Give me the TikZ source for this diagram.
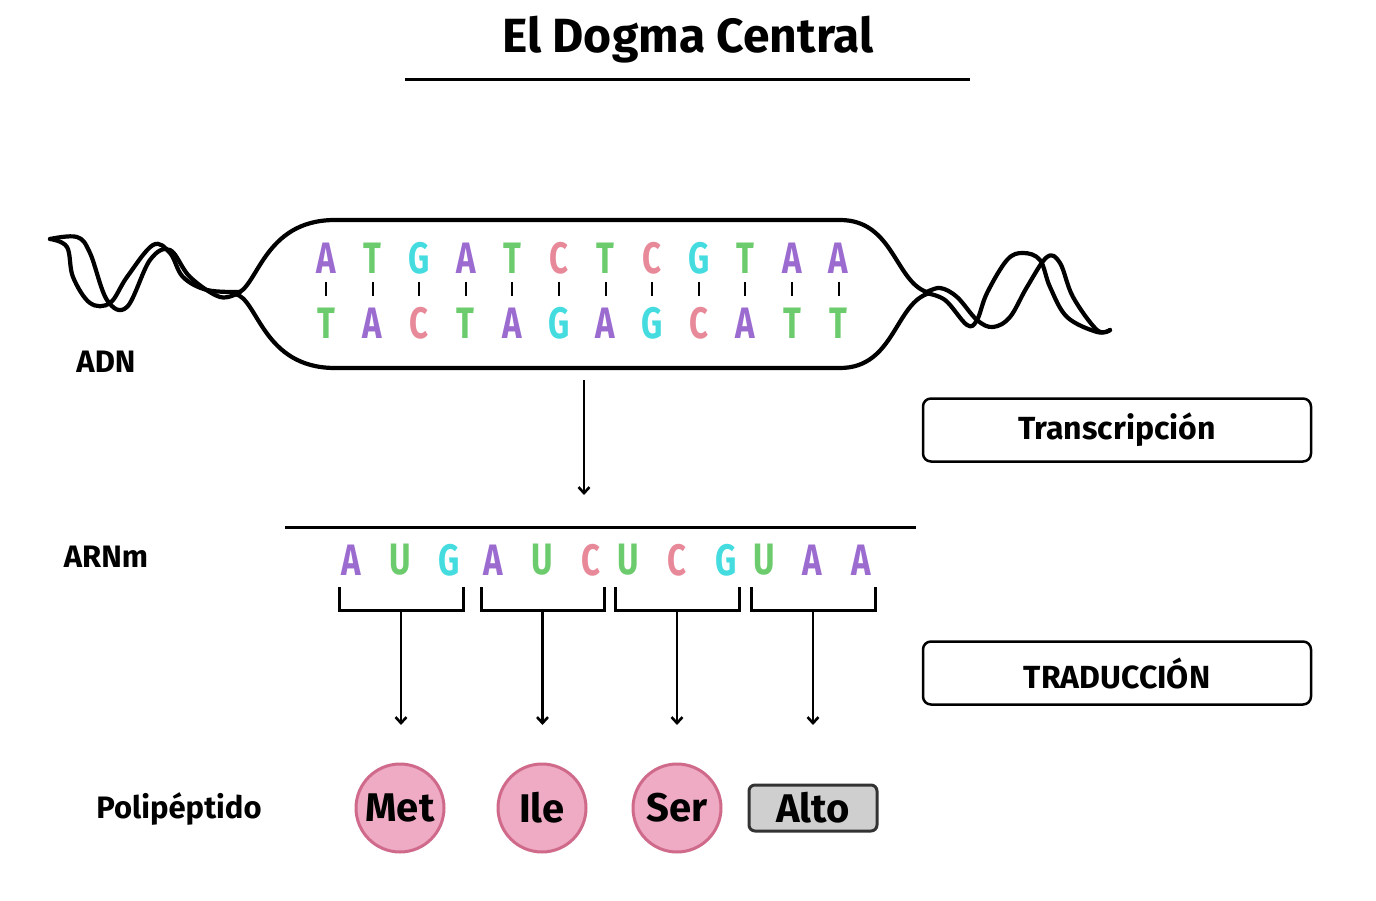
\documentclass[tikz,border=0pt]{standalone}
\usepackage{fontspec}
\setmainfont{Fira Sans}
\newfontfamily\narrowf[FakeStretch=0.75]{Fira Sans}
\usetikzlibrary{arrows.meta}
\definecolor{cA}{HTML}{9B6BD0}
\definecolor{cT}{HTML}{6CCB6C}
\definecolor{cG}{HTML}{45DCE0}
\definecolor{cC}{HTML}{E8899A}
\definecolor{pinkf}{HTML}{EFAAC4}
\definecolor{pinkd}{HTML}{D06A8A}
\tikzset{
 base/.style={font=\narrowf\fontsize{44}{44}\selectfont\bfseries, inner sep=0pt, anchor=center},
 A/.style={base,text=cA}, T/.style={base,text=cT}, G/.style={base,text=cG}, C/.style={base,text=cC}, U/.style={base,text=cT},
 lab/.style={font=\fontsize{31}{31}\selectfont\bfseries, inner sep=0pt},
 box/.style={draw, line width=2.5pt, rounded corners=8pt, minimum width=388pt, minimum height=63pt, font=\fontsize{32}{32}\selectfont\bfseries},
 arr/.style={line width=2.6pt, -{Straight Barb[length=6pt,width=11pt]}},
 strand/.style={line width=4.2pt, line cap=round, line join=round},
 amino/.style={circle, draw=pinkd, fill=pinkf, line width=3pt, minimum size=88pt, inner sep=0pt, font=\fontsize{40}{40}\selectfont\bfseries}
}
\begin{document}
\begin{tikzpicture}[x=1pt,y=-1pt]
\useasboundingbox (0,0) rectangle (1376,901);
\node[font=\fontsize{48}{48}\selectfont\bfseries] (title) at (688,40) {El Dogma Central};
\draw[line width=3pt] (405,80) -- (970,80);
% capsule
\draw[strand] (235,294) .. controls (258,290) and (262,220) .. (335,220) -- (840,220) .. controls (895,220) and (895,285) .. (930,293)
  .. controls (895,302) and (895,368) .. (840,368) -- (335,368) .. controls (262,368) and (258,298) .. (235,294);
% left helix
\draw[strand] plot[smooth,tension=0.6] coordinates {(240,292) (220,297) (190,277) (170,250) (150,260) (127,307) (107,300) (90,253) (77,237) (50,239)};
\draw[strand] plot[smooth,tension=0.6] coordinates {(240,292) (207,290) (183,277) (170,253) (153,245) (127,277) (110,303) (90,303) (73,277) (67,247) (50,239)};
% right helix
\draw[strand] plot[smooth,tension=0.6] coordinates {(925,293) (945,300) (967,325) (977,320) (987,293) (1007,260) (1023,253) (1040,260) (1050,287) (1067,317) (1097,332) (1110,330)};
\draw[strand] plot[smooth,tension=0.6] coordinates {(925,293) (940,288) (957,297) (977,320) (993,327) (1010,317) (1027,287) (1047,257) (1060,263) (1073,297) (1097,330) (1110,330)};
% DNA letters
\foreach \t/\b [count=\i from 0] in {A/T,T/A,G/C,A/T,T/A,C/G,T/A,C/G,G/C,T/A,A/T,A/T}{
  \pgfmathsetmacro\xx{326+46.6*\i}
  \node[\t] (t\i) at (\xx,258) {\t};
  \node[\b] (b\i) at (\xx,323) {\b};
  \draw[line width=2pt] (\xx,282) -- (\xx,296);
}
\node[lab] (adn) at (106,362) {ADN};
\node[lab] (arnm) at (106,557) {ARNm};
\node[lab] (poli) at (179,809) {Polipéptido};
\node[box] (trans) at (1117,430) {Transcripción};
\node[box] (trad) at (1117,673) {TRADUCCIÓN};
\coordinate (tsrc) at (584,380);
\coordinate (tdst) at (584,495);
\draw[arr] (tsrc) -- (tdst);
\draw[line width=3pt] (285,527) -- (916,527);
% RNA
\foreach \l/\xx [count=\i] in {A/351,U/400,G/449,A/493,U/542,C/591,U/628,C/677,G/726,U/764,A/812,A/861}{
  \node[\l] (r\i) at (\xx,560) {\l};
}
\foreach \a/\b/\n in {339/463/1,481/604/2,615/739/3,751/875/4}{
  \draw[line width=3pt] (\a,587) -- (\a,610) -- (\b,610) -- (\b,587);
  \coordinate (k\n) at ({(\a+\b)/2},610);
}
\node[amino] (met) at (400,808) {Met};
\node[amino] (ile) at (542,808) {Ile};
\node[amino] (ser) at (677,808) {Ser};
\node[draw=black!80, fill=black!19, line width=3pt, rounded corners=6pt, minimum width=128pt, minimum height=46pt, font=\fontsize{40}{40}\selectfont\bfseries] (alto) at (813,808) {Alto};
\foreach \n/\t in {1/met,2/ile,3/ser,4/alto}{
  \draw[arr] (k\n) -- ([yshift=-725pt]k\n |- 0,0);
}
\end{tikzpicture}
\end{document}
